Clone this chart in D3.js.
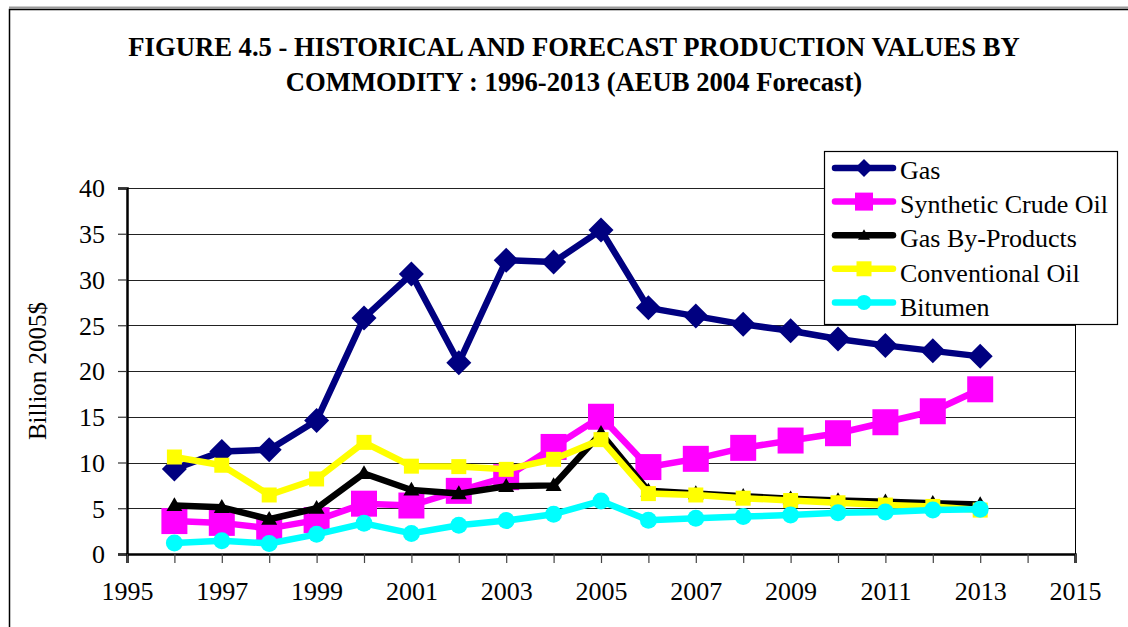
<!DOCTYPE html>
<html>
<head>
<meta charset="utf-8">
<script src="https://cdn.jsdelivr.net/npm/d3@7"></script>
<style>
  html, body { margin: 0; padding: 0; background: #fff; }
  svg { display: block; }
  svg text { font-family: "Liberation Serif", "Times New Roman", serif !important; fill: #000; }
</style>
</head>
<body>
<svg id="chart" width="1128" height="627"></svg>
<script>
// Production values by commodity, billion 2005$ (1996-2004 historical, 2005-2013 forecast)
const years = [1996, 1997, 1998, 1999, 2000, 2001, 2002, 2003, 2004,
               2005, 2006, 2007, 2008, 2009, 2010, 2011, 2012, 2013];
const gas          = [9.3, 11.2, 11.4, 14.6, 25.8, 30.6, 20.9, 32.1, 31.9,
                      35.4, 26.9, 26.0, 25.1, 24.4, 23.5, 22.8, 22.2, 21.6];
const syntheticCrude = [3.6, 3.4, 2.8, 3.7, 5.5, 5.3, 6.9, 8.4, 11.7,
                      15.0, 9.5, 10.4, 11.6, 12.4, 13.2, 14.4, 15.6, 18.0];
const gasByProducts = [5.3, 5.1, 3.8, 5.0, 8.8, 7.0, 6.6, 7.4, 7.5,
                      13.2, 6.9, 6.6, 6.3, 6.05, 5.85, 5.7, 5.55, 5.4];
const conventionalOil = [10.6, 9.7, 6.45, 8.2, 12.2, 9.6, 9.55, 9.25, 10.35,
                      12.5, 6.6, 6.45, 6.1, 5.85, 5.6, 5.35, 5.2, 4.8];
const bitumen      = [1.2, 1.45, 1.15, 2.15, 3.35, 2.25, 3.15, 3.65, 4.35,
                      5.8, 3.7, 3.9, 4.1, 4.25, 4.5, 4.6, 4.8, 4.9];

const seriesNames = ["Gas", "Synthetic Crude Oil", "Gas By-Products", "Conventional Oil", "Bitumen"];
const seriesValues = [gas, syntheticCrude, gasByProducts, conventionalOil, bitumen];
const xTickLabels = [1995, 1997, 1999, 2001, 2003, 2005, 2007, 2009, 2011, 2013, 2015];
const yTickLabels = [0, 5, 10, 15, 20, 25, 30, 35, 40];

// Presentation of each series: colour, marker shape and marker sizes (plot / legend)
const styles = [
  { color: "#000080", shape: "diamond",  plot: 25, legend: 18 },
  { color: "#FF00FF", shape: "square",   plot: 26, legend: 18 },
  { color: "#000000", shape: "triangle", plot: 16, legend: 12 },
  { color: "#FFFF00", shape: "square",   plot: 15, legend: 15 },
  { color: "#00FFFF", shape: "circle",   plot: 17, legend: 15 }
];

function markerPath(shape, w) {
  if (shape === "diamond") {
    const s = w / Math.SQRT2;
    return d3.symbol(d3.symbolSquare, s * s)();
  }
  if (shape === "square") return d3.symbol(d3.symbolSquare, w * w)();
  if (shape === "triangle") {
    const yy = w / (2 * Math.sqrt(3));
    return d3.symbol(d3.symbolTriangle, yy * yy * 3 * Math.sqrt(3))();
  }
  return d3.symbol(d3.symbolCircle, Math.PI * (w / 2) * (w / 2))();
}
function markerTransform(shape, x, y) {
  return shape === "diamond" ? `translate(${x},${y}) rotate(45)` :
         shape === "triangle" ? `translate(${x},${y + 1})` : `translate(${x},${y})`;
}

const svg = d3.select("#chart");

// Chart frame
svg.append("line").attr("x1", 9).attr("x2", 1128).attr("y1", 7.5).attr("y2", 7.5)
  .attr("stroke", "#9a9a9a").attr("stroke-width", 2);
svg.append("rect").attr("x", 9.5).attr("y", 9.5).attr("width", 1130).attr("height", 630)
  .attr("fill", "none").attr("stroke", "#000").attr("stroke-width", 1.5);

// Title: two bold lines, the first sized to span the plot width
const titleLines = [
  { text: "FIGURE 4.5 - HISTORICAL AND FORECAST PRODUCTION VALUES BY", y: 56 },
  { text: "COMMODITY : 1996-2013 (AEUB 2004 Forecast)", y: 91 }
];
const titles = svg.selectAll("text.title").data(titleLines).join("text")
  .attr("class", "title")
  .attr("x", 574).attr("y", d => d.y)
  .attr("text-anchor", "middle")
  .attr("font-weight", "bold").attr("font-size", 28)
  .text(d => d.text);
const natural = titles.node().getComputedTextLength();
const titleSize = Math.min(30, 28 * 892 / natural);
titles.attr("font-size", titleSize);

// Scales
const x = d3.scaleLinear().domain([1995, 2015]).range([127, 1075]);
const y = d3.scaleLinear().domain([0, 40]).range([554, 188]);

// Gridlines
svg.append("g").selectAll("line").data(yTickLabels.filter(v => v > 0)).join("line")
  .attr("x1", x(1995)).attr("x2", x(2015))
  .attr("y1", d => Math.round(y(d)) + 0.5).attr("y2", d => Math.round(y(d)) + 0.5)
  .attr("stroke", "#222").attr("stroke-width", 1);
// Plot area right edge
svg.append("line").attr("x1", x(2015) + 0.5).attr("x2", x(2015) + 0.5)
  .attr("y1", y(40)).attr("y2", y(0))
  .attr("stroke", "#000").attr("stroke-width", 1);

// Y axis
const yAxis = d3.axisLeft(y).tickValues(yTickLabels).tickSize(9).tickPadding(13)
  .tickFormat(d3.format("d"));
const gy = svg.append("g").attr("transform", `translate(${x(1995)},0)`).call(yAxis)
  .attr("font-family", null).attr("font-size", null);
gy.select(".domain").attr("stroke", "#000").attr("stroke-width", 2.5);
gy.selectAll(".tick line").attr("stroke", "#333").attr("stroke-width", 1.2);
gy.selectAll(".tick text").style("font-size", "26px").attr("dy", "0.34em");

// X axis: a tick every year, labels every other year
const xAxis = d3.axisBottom(x).tickValues(d3.range(1995, 2016)).tickSize(9).tickPadding(19)
  .tickFormat(d => xTickLabels.includes(d) ? String(d) : "");
const gx = svg.append("g").attr("transform", `translate(0,${y(0)})`).call(xAxis)
  .attr("font-family", null).attr("font-size", null);
gx.select(".domain").attr("stroke", "#000").attr("stroke-width", 2.5);
gx.selectAll(".tick line").attr("stroke", "#444").attr("stroke-width", 1.2);
gx.selectAll(".tick text").style("font-size", "26px");

// Y axis title
svg.append("text")
  .attr("transform", `translate(46,${(y(0) + y(40)) / 2}) rotate(-90)`)
  .attr("text-anchor", "middle").attr("font-size", 25)
  .text("Billion 2005$");

// Series: line then markers, drawn in legend order
const line = d3.line().x((d, i) => x(years[i])).y(d => y(d));
seriesValues.forEach((vals, k) => {
  const st = styles[k];
  const g = svg.append("g").attr("class", "series");
  g.append("path").datum(vals).attr("d", line)
    .attr("fill", "none").attr("stroke", st.color).attr("stroke-width", 6.5)
    .attr("stroke-linejoin", "round").attr("stroke-linecap", "round");
  g.selectAll("path.mk").data(vals).join("path").attr("class", "mk")
    .attr("d", markerPath(st.shape, st.plot))
    .attr("transform", (d, i) => markerTransform(st.shape, x(years[i]), y(d)))
    .attr("fill", st.color);
});

// Legend
const legend = svg.append("g");
legend.append("rect").attr("x", 824.5).attr("y", 151.5).attr("width", 293).attr("height", 173)
  .attr("fill", "#fff").attr("stroke", "#000").attr("stroke-width", 1.2);
const rows = legend.selectAll("g.row").data(seriesNames).join("g").attr("class", "row")
  .attr("transform", (d, i) => `translate(0,${168 + i * 33.6})`);
rows.append("line").attr("x1", 835).attr("x2", 893).attr("y1", 0).attr("y2", 0)
  .attr("stroke", (d, i) => styles[i].color).attr("stroke-width", 6.5)
  .attr("stroke-linecap", "round");
rows.append("path")
  .attr("d", (d, i) => markerPath(styles[i].shape, styles[i].legend))
  .attr("transform", (d, i) => markerTransform(styles[i].shape, 864, 0))
  .attr("fill", (d, i) => styles[i].color);
rows.append("text").attr("x", 900).attr("y", (d, i) => 10.5 + i * 0.8)
  .attr("font-size", 26).text(d => d);
</script>
</body>
</html>
